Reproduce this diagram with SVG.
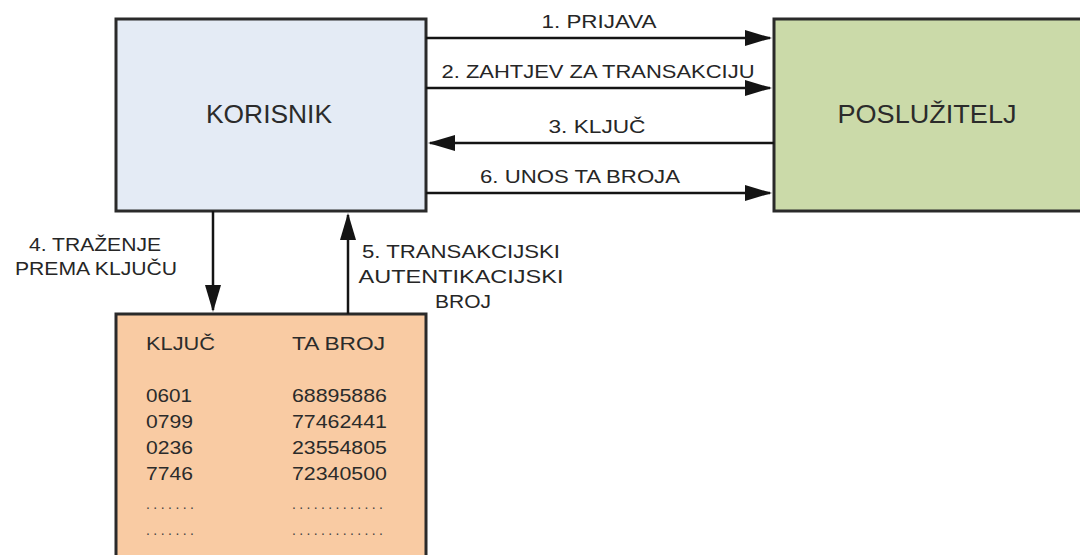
<svg xmlns="http://www.w3.org/2000/svg" width="1080" height="555" viewBox="0 0 1080 555">
  <style>
    .box { stroke: #2a2a2a; stroke-width: 3; }
    .user { fill: #e4ebf5; }
    .server { fill: #cbdaa9; }
    .table { fill: #f9cba3; }
    .title { font-family: "Liberation Sans", Arial, sans-serif; font-size: 25px; fill: #2b2b2b; text-anchor: middle; }
    .lbl { font-family: "Liberation Sans", Arial, sans-serif; font-size: 19px; fill: #262626; }
    .mid { text-anchor: middle; }
    .cell { font-family: "Liberation Sans", Arial, sans-serif; font-size: 19px; fill: #2b2b2b; }
    .dots { font-family: "Liberation Sans", Arial, sans-serif; font-size: 14px; fill: #444; }
    .wire { stroke: #141414; stroke-width: 2.5; fill: none; marker-end: url(#head); }
  </style>
  <defs>
    <marker id="head" markerUnits="userSpaceOnUse" markerWidth="28" markerHeight="18" refX="25" refY="8" orient="auto">
      <path d="M0,0 L27,8 L0,16 Z" fill="#141414"/>
    </marker>
  </defs>

  <rect width="1080" height="555" fill="#ffffff"/>

  <!-- client -->
  <g id="korisnik">
    <rect class="box user" x="116" y="19" width="310" height="192"/>
    <text class="title" x="269" y="123" textLength="126" lengthAdjust="spacingAndGlyphs">KORISNIK</text>
  </g>

  <!-- server -->
  <g id="posluzitelj">
    <rect class="box server" x="774" y="19" width="320" height="192"/>
    <text class="title" x="927" y="123" textLength="179" lengthAdjust="spacingAndGlyphs">POSLUŽITELJ</text>
  </g>

  <!-- key / TAN table -->
  <g id="tablica">
    <rect class="box table" x="116" y="314" width="310" height="260"/>
    <text class="cell" x="146" y="350" textLength="69" lengthAdjust="spacingAndGlyphs">KLJUČ</text>
    <text class="cell" x="292" y="350" textLength="93" lengthAdjust="spacingAndGlyphs">TA BROJ</text>
    <text class="cell" x="146" y="402" textLength="46" lengthAdjust="spacingAndGlyphs">0601</text>
    <text class="cell" x="146" y="428" textLength="47" lengthAdjust="spacingAndGlyphs">0799</text>
    <text class="cell" x="146" y="454" textLength="47" lengthAdjust="spacingAndGlyphs">0236</text>
    <text class="cell" x="146" y="480" textLength="47" lengthAdjust="spacingAndGlyphs">7746</text>
    <text class="cell" x="292" y="402" textLength="95" lengthAdjust="spacingAndGlyphs">68895886</text>
    <text class="cell" x="292" y="428" textLength="95" lengthAdjust="spacingAndGlyphs">77462441</text>
    <text class="cell" x="292" y="454" textLength="95" lengthAdjust="spacingAndGlyphs">23554805</text>
    <text class="cell" x="292" y="480" textLength="95" lengthAdjust="spacingAndGlyphs">72340500</text>
    <text class="dots" x="146" y="509" textLength="48" lengthAdjust="spacing">.......</text>
    <text class="dots" x="146" y="535" textLength="48" lengthAdjust="spacing">.......</text>
    <text class="dots" x="292" y="509" textLength="91" lengthAdjust="spacing">.............</text>
    <text class="dots" x="292" y="535" textLength="91" lengthAdjust="spacing">.............</text>
  </g>

  <!-- message flows -->
  <g id="connectors">
    <line class="wire" x1="426" y1="38" x2="770" y2="38"/>
    <line class="wire" x1="426" y1="88" x2="770" y2="88"/>
    <line class="wire" x1="774" y1="143" x2="430" y2="143"/>
    <line class="wire" x1="426" y1="193" x2="770" y2="193"/>
    <line class="wire" x1="213" y1="211" x2="213" y2="310"/>
    <line class="wire" x1="348" y1="314" x2="348" y2="215"/>

    <text class="lbl mid" x="599" y="28" textLength="115" lengthAdjust="spacingAndGlyphs">1. PRIJAVA</text>
    <text class="lbl mid" x="598" y="78" textLength="313" lengthAdjust="spacingAndGlyphs">2. ZAHTJEV ZA TRANSAKCIJU</text>
    <text class="lbl mid" x="597" y="133" textLength="97" lengthAdjust="spacingAndGlyphs">3. KLJUČ</text>
    <text class="lbl mid" x="580" y="183" textLength="200" lengthAdjust="spacingAndGlyphs">6. UNOS TA BROJA</text>

    <text class="lbl mid" x="95" y="251" textLength="132" lengthAdjust="spacingAndGlyphs">4. TRAŽENJE</text>
    <text class="lbl mid" x="96" y="275" textLength="162" lengthAdjust="spacingAndGlyphs">PREMA KLJUČU</text>

    <text class="lbl mid" x="461" y="258" textLength="198" lengthAdjust="spacingAndGlyphs">5. TRANSAKCIJSKI</text>
    <text class="lbl mid" x="461" y="283" textLength="205" lengthAdjust="spacingAndGlyphs">AUTENTIKACIJSKI</text>
    <text class="lbl mid" x="463" y="308" textLength="56" lengthAdjust="spacingAndGlyphs">BROJ</text>
  </g>
</svg>
